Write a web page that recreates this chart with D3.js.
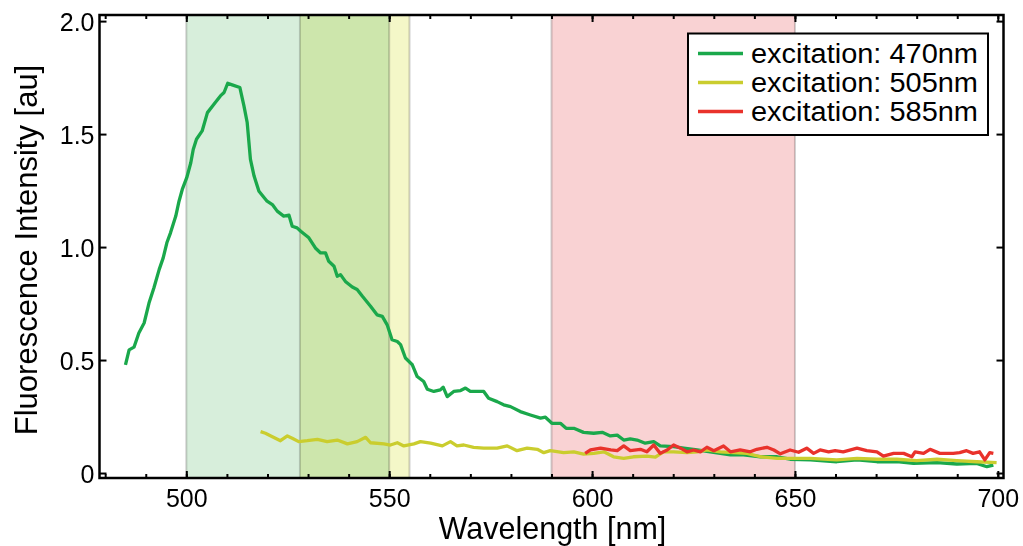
<!DOCTYPE html>
<html>
<head>
<meta charset="utf-8">
<script src="https://cdn.jsdelivr.net/npm/d3@7"></script>
<style>
  html, body { margin: 0; padding: 0; background: #fff; }
  svg { display: block; font-family: "Liberation Sans", Arial, sans-serif; }
</style>
</head>
<body>
<svg id="chart" width="1023" height="546"></svg>
<script>
// Emission spectra: [wavelength nm, intensity au]
const spectrum470 = [
  [485.0,0.479],[485.9,0.545],[487.1,0.557],[488.3,0.62],[489.6,0.664],[490.8,0.752],[492.0,0.819],
  [493.3,0.90],[494.3,0.952],[495.2,1.019],[496.1,1.063],[497.4,1.137],[498.2,1.203],[499.0,1.255],
  [500.1,1.307],[501.1,1.373],[501.7,1.432],[502.5,1.477],[503.9,1.514],[505.2,1.595],[506.8,1.632],
  [508.4,1.669],[509.3,1.684],[510.2,1.725],[511.3,1.718],[513.2,1.706],[514.2,1.625],[515.0,1.551],
  [515.8,1.388],[516.7,1.314],[517.9,1.247],[519.9,1.203],[521.2,1.188],[522.4,1.159],[524.0,1.137],
  [525.3,1.141],[526.1,1.092],[527.3,1.085],[528.2,1.07],[530.2,1.041],[531.8,0.996],[533.1,0.974],
  [534.3,0.974],[535.1,0.937],[536.4,0.915],[537.2,0.871],[538.0,0.878],[539.2,0.848],[540.9,0.823],
  [542.1,0.812],[543.4,0.782],[545.4,0.738],[547.0,0.70],[548.3,0.693],[549.5,0.656],[550.7,0.59],
  [552.0,0.582],[552.8,0.568],[554.0,0.509],[555.7,0.479],[556.9,0.427],[558.5,0.405],[559.4,0.371],
  [561.0,0.361],[562.6,0.368],[563.3,0.38],[564.3,0.338],[565.9,0.361],[567.6,0.365],[568.8,0.376],
  [570.0,0.361],[571.7,0.361],[573.3,0.361],[574.5,0.331],[576.6,0.316],[578.2,0.302],[579.9,0.294],
  [582.3,0.272],[584.8,0.257],[587.3,0.243],[588.5,0.247],[590.1,0.22],[592.2,0.22],[593.6,0.198],
  [595.5,0.198],[597.9,0.18],[600.4,0.176],[602.5,0.18],[604.5,0.164],[606.2,0.168],[607.8,0.146],
  [609.4,0.151],[611.1,0.146],[613.1,0.132],[615.2,0.139],[616.8,0.12],[620.1,0.117],[622.6,0.11],
  [625.9,0.102],[629.1,0.094],[634.1,0.08],[637.3,0.08],[641.5,0.072],[645.6,0.072],[648.8,0.061],
  [653.8,0.058],[660.3,0.05],[665.3,0.058],[670.2,0.05],[675.1,0.05],[679.2,0.043],[685.0,0.046],
  [689.9,0.04],[694.8,0.043],[697.3,0.028],[698.9,0.035]
];
const spectrum505 = [
  [518.3,0.183],[519.5,0.176],[521.2,0.161],[523.2,0.143],[524.9,0.164],[526.1,0.154],[527.7,0.139],
  [529.8,0.143],[532.3,0.149],[534.7,0.139],[537.2,0.146],[539.7,0.129],[542.1,0.139],[544.2,0.158],
  [545.4,0.134],[548.7,0.129],[550.3,0.124],[552.0,0.134],[553.6,0.12],[556.1,0.129],[557.7,0.139],
  [560.2,0.132],[563.1,0.12],[565.1,0.139],[566.7,0.12],[568.4,0.124],[570.8,0.114],[573.3,0.11],
  [576.6,0.11],[579.1,0.12],[581.5,0.099],[584.0,0.11],[586.5,0.105],[588.1,0.09],[589.7,0.099],
  [593.0,0.09],[595.5,0.094],[597.9,0.084],[600.4,0.087],[602.9,0.094],[605.3,0.072],[607.8,0.065],
  [610.2,0.072],[613.5,0.075],[615.6,0.07],[617.6,0.094],[620.1,0.094],[623.4,0.09],[625.9,0.094],
  [628.3,0.102],[631.6,0.094],[634.9,0.09],[638.2,0.087],[641.5,0.072],[645.6,0.065],[648.8,0.065],
  [653.8,0.065],[660.3,0.058],[665.3,0.065],[670.2,0.061],[675.1,0.061],[680.0,0.055],[685.0,0.061],
  [689.9,0.055],[694.8,0.05],[699.7,0.046]
];
const spectrum585 = [
  [598.3,0.087],[599.6,0.102],[602.1,0.11],[604.6,0.102],[606.2,0.099],[607.8,0.12],[609.4,0.099],
  [611.9,0.105],[613.5,0.094],[615.2,0.124],[616.8,0.087],[618.5,0.102],[620.1,0.124],[621.8,0.11],
  [623.4,0.094],[625.0,0.102],[626.7,0.094],[628.3,0.114],[630.0,0.099],[632.4,0.12],[634.1,0.094],
  [636.5,0.102],[639.0,0.094],[640.6,0.105],[643.1,0.114],[644.8,0.102],[646.4,0.085],[648.8,0.102],
  [650.9,0.092],[652.9,0.11],[654.6,0.087],[656.2,0.102],[658.3,0.094],[659.9,0.099],[661.9,0.094],
  [665.3,0.11],[667.7,0.099],[670.2,0.094],[671.8,0.075],[674.3,0.087],[676.8,0.087],[678.8,0.072],
  [679.6,0.094],[681.7,0.087],[683.3,0.105],[685.7,0.087],[689.0,0.087],[690.6,0.09],[692.3,0.099],
  [693.9,0.087],[695.5,0.094],[696.8,0.058],[698.0,0.09],[698.9,0.087]
];

const seriesNames = ["excitation: 470nm", "excitation: 505nm", "excitation: 585nm"];
const seriesColors = ["#1aa84b", "#cacd2e", "#e9322b"];

// Emission filter pass bands [from, to] nm
const bandRanges = [[500, 550], [528, 555], [590, 650]];
const bandColors = ["#d7eedb", "#f4f7c8", "#f9d2d3"];

const xMajorTicks = [500, 550, 600, 650, 700];
const xMinorTicks = d3.range(480, 701, 10);
const yTicks = [0, 0.5, 1.0, 1.5, 2.0];
const yTickLabels = ["0", "0.5", "1.0", "1.5", "2.0"];

const svg = d3.select("#chart");
const plotLeft = 99.5, plotRight = 1003.5, plotTop = 15, plotBottom = 478;

const x = d3.scaleLinear().domain([478.6, 701.4]).range([plotLeft, plotRight]);
const y = d3.scaleLinear().domain([-0.022, 2.027]).range([plotBottom, plotTop]);

// Shaded pass bands (multiplied so overlaps darken)
const bands = svg.append("g");
bandRanges.forEach((r, i) => {
  bands.append("rect")
    .attr("x", x(r[0])).attr("y", plotTop)
    .attr("width", x(r[1]) - x(r[0])).attr("height", plotBottom - plotTop)
    .attr("fill", bandColors[i])
    .style("mix-blend-mode", "multiply");
  r.forEach(edge => {
    bands.append("line")
      .attr("x1", x(edge)).attr("x2", x(edge))
      .attr("y1", plotTop).attr("y2", plotBottom)
      .attr("stroke", "#d0d0d0").attr("stroke-width", 2)
      .style("mix-blend-mode", "multiply");
  });
});

// Spectra
const line = d3.line().x(d => x(d[0])).y(d => y(d[1]));
[spectrum470, spectrum505, spectrum585].forEach((s, i) => {
  svg.append("path")
    .datum(s)
    .attr("d", line)
    .attr("fill", "none")
    .attr("stroke", seriesColors[i])
    .attr("stroke-width", 3.3)
    .attr("stroke-linejoin", "round");
});

// Axes with inward ticks on all four sides
function styleAxis(g) {
  g.select(".domain").remove();
  g.selectAll(".tick line").attr("stroke", "#000").attr("stroke-width", 2);
}
const fontSize = 25;

svg.append("g").attr("transform", `translate(0,${plotBottom})`)
  .call(d3.axisBottom(x).tickValues(xMinorTicks).tickSize(-4).tickFormat(""))
  .call(styleAxis);
svg.append("g").attr("transform", `translate(0,${plotTop})`)
  .call(d3.axisTop(x).tickValues(xMinorTicks).tickSize(-4).tickFormat(""))
  .call(styleAxis);

const xb = svg.append("g").attr("transform", `translate(0,${plotBottom})`)
  .call(d3.axisBottom(x).tickValues(xMajorTicks).tickSize(-7).tickFormat(d3.format("d")))
  .call(styleAxis);
xb.selectAll(".tick text").attr("y", 29).attr("dy", 0)
  .attr("font-size", fontSize).attr("fill", "#000")
  .attr("font-family", "'Liberation Sans', Arial, sans-serif");
svg.append("g").attr("transform", `translate(0,${plotTop})`)
  .call(d3.axisTop(x).tickValues(xMajorTicks).tickSize(-7).tickFormat(""))
  .call(styleAxis);

const yl = svg.append("g").attr("transform", `translate(${plotLeft},0)`)
  .call(d3.axisLeft(y).tickValues(yTicks).tickSize(-7)
    .tickFormat((d, i) => yTickLabels[i]))
  .call(styleAxis);
yl.selectAll(".tick text").attr("x", -5).attr("dy", "0.36em")
  .attr("font-size", fontSize).attr("fill", "#000")
  .attr("font-family", "'Liberation Sans', Arial, sans-serif");
svg.append("g").attr("transform", `translate(${plotRight},0)`)
  .call(d3.axisRight(y).tickValues(yTicks).tickSize(-7).tickFormat(""))
  .call(styleAxis);

// Frame
svg.append("rect")
  .attr("x", plotLeft).attr("y", plotTop)
  .attr("width", plotRight - plotLeft).attr("height", plotBottom - plotTop)
  .attr("fill", "none").attr("stroke", "#000").attr("stroke-width", 2.5);

// Axis titles
svg.append("text")
  .attr("x", (plotLeft + plotRight) / 2 + 1).attr("y", 539)
  .attr("text-anchor", "middle").attr("font-size", 30.5)
  .text("Wavelength [nm]");
svg.append("text")
  .attr("transform", "translate(37,250) rotate(-90)")
  .attr("text-anchor", "middle").attr("font-size", 31)
  .text("Fluorescence Intensity [au]");

// Legend
const legend = svg.append("g");
legend.append("rect")
  .attr("x", 688).attr("y", 33.5).attr("width", 300).attr("height", 101.5)
  .attr("fill", "#fff").attr("stroke", "#000").attr("stroke-width", 2);
seriesNames.forEach((name, i) => {
  const cy = 53.5 + i * 29;
  legend.append("line")
    .attr("x1", 698).attr("x2", 743).attr("y1", cy).attr("y2", cy)
    .attr("stroke", seriesColors[i]).attr("stroke-width", 3.3);
  legend.append("text")
    .attr("x", 751).attr("y", cy + 9.5)
    .attr("font-size", 27)
    .attr("textLength", 227)
    .attr("lengthAdjust", "spacingAndGlyphs")
    .text(name);
});
</script>
</body>
</html>
